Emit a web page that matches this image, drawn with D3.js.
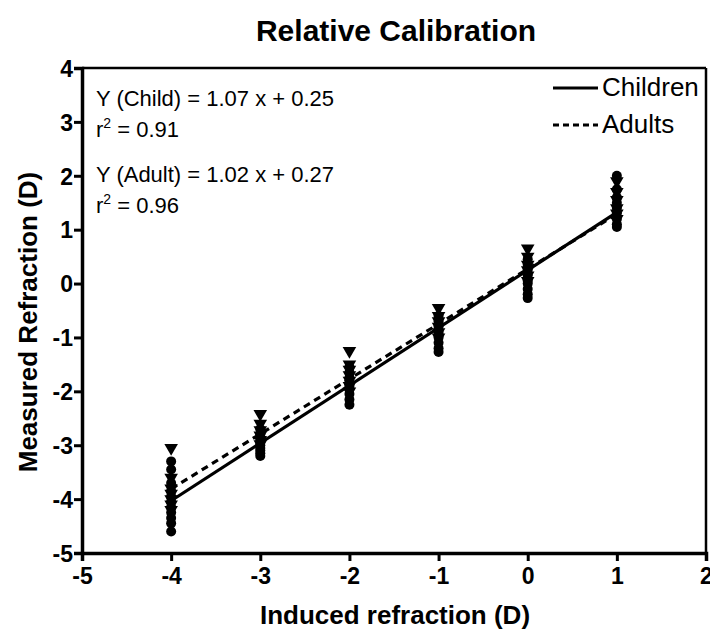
<!DOCTYPE html>
<html><head><meta charset="utf-8">
<script src="https://cdn.jsdelivr.net/npm/d3@7"></script>
<style>body{margin:0;background:#fff;} text{font-family:"Liberation Sans",Arial,sans-serif;}</style>
</head><body>
<svg id="c" width="710" height="634"></svg>
<script>
const xTicks = [-5,-4,-3,-2,-1,0,1,2];
const yTicks = [-5,-4,-3,-2,-1,0,1,2,3,4];
const induced = [-4,-3,-2,-1,0,1];
// measured refraction per induced level
const childValues = [
  [-3.3,-3.45,-3.7,-3.85,-3.95,-4.05,-4.15,-4.25,-4.35,-4.45,-4.6],
  [-2.7,-2.8,-2.9,-2.95,-3.0,-3.05,-3.1,-3.15,-3.2],
  [-1.55,-1.65,-1.75,-1.85,-1.9,-1.95,-2.05,-2.15,-2.25],
  [-0.6,-0.7,-0.8,-0.9,-0.95,-1.0,-1.1,-1.2,-1.27],
  [0.45,0.35,0.25,0.15,0.05,0.0,-0.1,-0.2,-0.27],
  [2.0,1.75,1.6,1.5,1.4,1.3,1.2,1.1,1.05]
];
const adultValues = [
  [-3.05,-3.6,-3.8,-3.9,-4.0,-4.1,-4.2],
  [-2.42,-2.6,-2.72,-2.82,-2.9,-2.98],
  [-1.25,-1.5,-1.6,-1.7,-1.8,-1.9,-2.0],
  [-0.45,-0.6,-0.7,-0.8,-0.9,-1.0],
  [0.65,0.5,0.35,0.25,0.15,0.05],
  [1.9,1.7,1.55,1.4,1.3,1.2]
];
const fits = [
  {name:"Children", slope:1.07, intercept:0.25, dash:null, eq:"Y (Child) = 1.07 x + 0.25", r2:"0.91"},
  {name:"Adults", slope:1.02, intercept:0.27, dash:"7,5", eq:"Y (Adult) = 1.02 x + 0.27", r2:"0.96"}
];
const fitRange = [-4,1];

const svg = d3.select("#c");
const L=82, R=706, T=68, B=553;
const x = d3.scaleLinear().domain([-5,2]).range([L,R]);
const y = d3.scaleLinear().domain([-5,4]).range([B,T]);

// title
svg.append("text").attr("x",396).attr("y",41).attr("text-anchor","middle")
  .attr("font-size",30).attr("font-weight","bold").text("Relative Calibration");

// frame top/right
svg.append("line").attr("x1",L).attr("x2",R).attr("y1",T).attr("y2",T).attr("stroke","#000").attr("stroke-width",2.5);
svg.append("line").attr("x1",R).attr("x2",R).attr("y1",T).attr("y2",B).attr("stroke","#000").attr("stroke-width",2.5);

// axes
const fmt = d => String(d);
const xa = svg.append("g").attr("transform",`translate(0,${B})`)
  .call(d3.axisBottom(x).tickValues(xTicks).tickFormat(fmt).tickSizeOuter(0).tickSize(8).tickPadding(7));
const ya = svg.append("g").attr("transform",`translate(${L},0)`)
  .call(d3.axisLeft(y).tickValues(yTicks).tickFormat(fmt).tickSizeOuter(0).tickSize(8).tickPadding(1));
[xa,ya].forEach(a=>{
  a.select(".domain").attr("stroke-width",3.5);
  a.selectAll(".tick line").attr("stroke-width",3);
  a.selectAll(".tick text").attr("font-size",23).attr("font-weight","bold")
    .attr("font-family","'Liberation Sans',Arial,sans-serif").attr("fill","#000");
});
ya.selectAll(".tick text").attr("dy","0.36em");

// axis titles
svg.append("text").attr("x",395).attr("y",624).attr("text-anchor","middle")
  .attr("font-size",26).attr("font-weight","bold").text("Induced refraction (D)");
svg.append("text").attr("transform","translate(37,322) rotate(-90)").attr("text-anchor","middle")
  .attr("font-size",26).attr("font-weight","bold").text("Measured Refraction (D)");

// points
const triangle = d3.symbol().type(d3.symbolTriangle).size(80);
induced.forEach((xv,i)=>{
  svg.append("g").selectAll("path").data(adultValues[i]).join("path")
    .attr("d",triangle).attr("transform",d=>`translate(${x(xv)},${y(d)}) rotate(180)`).attr("fill","#000");
  svg.append("g").selectAll("circle").data(childValues[i]).join("circle")
    .attr("cx",x(xv)).attr("cy",d=>y(d)).attr("r",5).attr("fill","#000");
});

// fit lines
fits.forEach(f=>{
  svg.append("line")
    .attr("x1",x(fitRange[0])).attr("y1",y(f.slope*fitRange[0]+f.intercept))
    .attr("x2",x(fitRange[1])).attr("y2",y(f.slope*fitRange[1]+f.intercept))
    .attr("stroke","#000").attr("stroke-width",3.2).attr("stroke-dasharray",f.dash);
});

// annotations
fits.forEach((f,i)=>{
  const by = 106 + i*76;
  svg.append("text").attr("x",96).attr("y",by).attr("font-size",22).text(f.eq);
  const t = svg.append("text").attr("x",96).attr("y",by+31).attr("font-size",22);
  t.append("tspan").text("r");
  t.append("tspan").attr("font-size",14).attr("dy",-9).text("2");
  t.append("tspan").attr("dy",9).text(" = "+f.r2);
});

// legend
fits.forEach((f,i)=>{
  const ly = 88 + i*37;
  svg.append("line").attr("x1",553).attr("x2",598).attr("y1",ly).attr("y2",ly)
    .attr("stroke","#000").attr("stroke-width",3.2).attr("stroke-dasharray",f.dash ? "6,4" : null);
  svg.append("text").attr("x",602).attr("y",ly+8).attr("font-size",26).text(f.name);
});
</script>
</body></html>
